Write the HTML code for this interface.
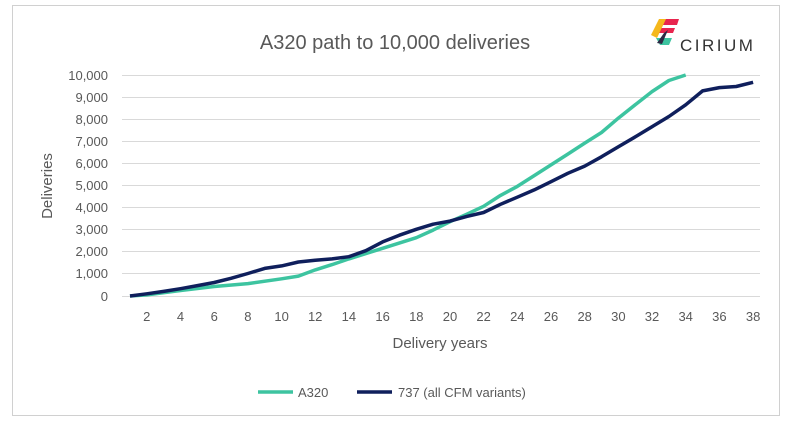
<!DOCTYPE html>
<html><head><style>
body{margin:0;background:#fff;}
svg{display:block;font-family:"Liberation Sans",sans-serif;}
</style></head><body>
<svg width="790" height="427" viewBox="0 0 790 427">
<rect x="12.5" y="5.5" width="767" height="410" fill="#fff" stroke="#d0d0d0"/>
<text x="395" y="49" font-size="20" fill="#595959" text-anchor="middle">A320 path to 10,000 deliveries</text>
<!-- logo -->
<g>
<polygon points="661,19 679,19 677,25 659,25" fill="#e8254e"/>
<polygon points="657,28 675,28 673,33 655,33" fill="#e8254e"/>
<polygon points="659,19 666,19 657,38 651,35" fill="#f5b81c"/>
<polygon points="656,38 672,38 669,45 660,45" fill="#3dc4a0"/>
<polygon points="664,33 668,30 662,44 657,43" fill="#2d2a45"/>
<text x="680" y="51" font-size="17" fill="#333" letter-spacing="2.5">CIRIUM</text>
</g>
<g stroke="#d9d9d9" stroke-width="1">
<line x1="122" x2="760" y1="75.5" y2="75.5"/><line x1="122" x2="760" y1="97.5" y2="97.5"/>
<line x1="122" x2="760" y1="119.5" y2="119.5"/><line x1="122" x2="760" y1="141.5" y2="141.5"/>
<line x1="122" x2="760" y1="163.5" y2="163.5"/><line x1="122" x2="760" y1="185.5" y2="185.5"/>
<line x1="122" x2="760" y1="207.5" y2="207.5"/><line x1="122" x2="760" y1="229.5" y2="229.5"/>
<line x1="122" x2="760" y1="251.5" y2="251.5"/><line x1="122" x2="760" y1="273.5" y2="273.5"/>
<line x1="122" x2="760" y1="296.5" y2="296.5"/>
</g>
<g font-size="13" fill="#595959" text-anchor="end">
<text x="108" y="80">10,000</text><text x="108" y="102">9,000</text><text x="108" y="124">8,000</text>
<text x="108" y="146">7,000</text><text x="108" y="168">6,000</text><text x="108" y="190">5,000</text>
<text x="108" y="212">4,000</text><text x="108" y="234">3,000</text><text x="108" y="256">2,000</text>
<text x="108" y="278">1,000</text><text x="108" y="301">0</text>
</g>
<g font-size="13" fill="#595959" text-anchor="middle" id="xl"></g>
<text x="440" y="348" font-size="15" fill="#595959" text-anchor="middle">Delivery years</text>
<text transform="translate(52,186) rotate(-90)" font-size="15" fill="#595959" text-anchor="middle">Deliveries</text>
<polyline id="a" fill="none" stroke="#3dc4a0" stroke-width="3.5" stroke-linejoin="round"/>
<polyline id="b" fill="none" stroke="#0f1f5c" stroke-width="3.5" stroke-linejoin="round"/>
<line x1="258" x2="293" y1="392" y2="392" stroke="#3dc4a0" stroke-width="3.5"/>
<text x="298" y="397" font-size="13" fill="#595959">A320</text>
<line x1="357" x2="392" y1="392" y2="392" stroke="#0f1f5c" stroke-width="3.5"/>
<text x="398" y="397" font-size="13" fill="#595959">737 (all CFM variants)</text>
</svg>
<script>
var X=function(y){return 130+(y-1)*16.84},Y=function(v){return 296-v*0.0221};
var a=[[1,0],[2,50],[4,250],[6,430],[8,560],[10,780],[11,900],[12,1180],[13,1420],[14,1680],[16,2160],[18,2640],[19,2980],[20,3360],[21,3700],[22,4060],[23,4550],[24,4960],[25,5450],[26,5930],[27,6420],[28,6920],[29,7400],[30,8050],[31,8650],[32,9250],[33,9750],[34,10000]];
var b=[[1,0],[2,100],[3,210],[4,330],[5,470],[6,610],[7,800],[8,1020],[9,1250],[10,1360],[11,1540],[12,1620],[13,1680],[14,1780],[15,2050],[16,2450],[17,2750],[18,3020],[19,3250],[20,3390],[21,3600],[22,3780],[23,4150],[24,4470],[25,4800],[26,5170],[27,5550],[28,5880],[29,6300],[30,6750],[31,7200],[32,7660],[33,8120],[34,8650],[35,9280],[36,9430],[37,9480],[38,9670]];
function p(d){return d.map(function(q){return X(q[0]).toFixed(1)+","+Y(q[1]).toFixed(1)}).join(" ")}
document.getElementById("a").setAttribute("points",p(a));
document.getElementById("b").setAttribute("points",p(b));
var g=document.getElementById("xl"),s="";
for(var i=2;i<=38;i+=2)s+='<text x="'+X(i).toFixed(1)+'" y="321">'+i+'</text>';
g.innerHTML=s;
</script>
</body></html>
